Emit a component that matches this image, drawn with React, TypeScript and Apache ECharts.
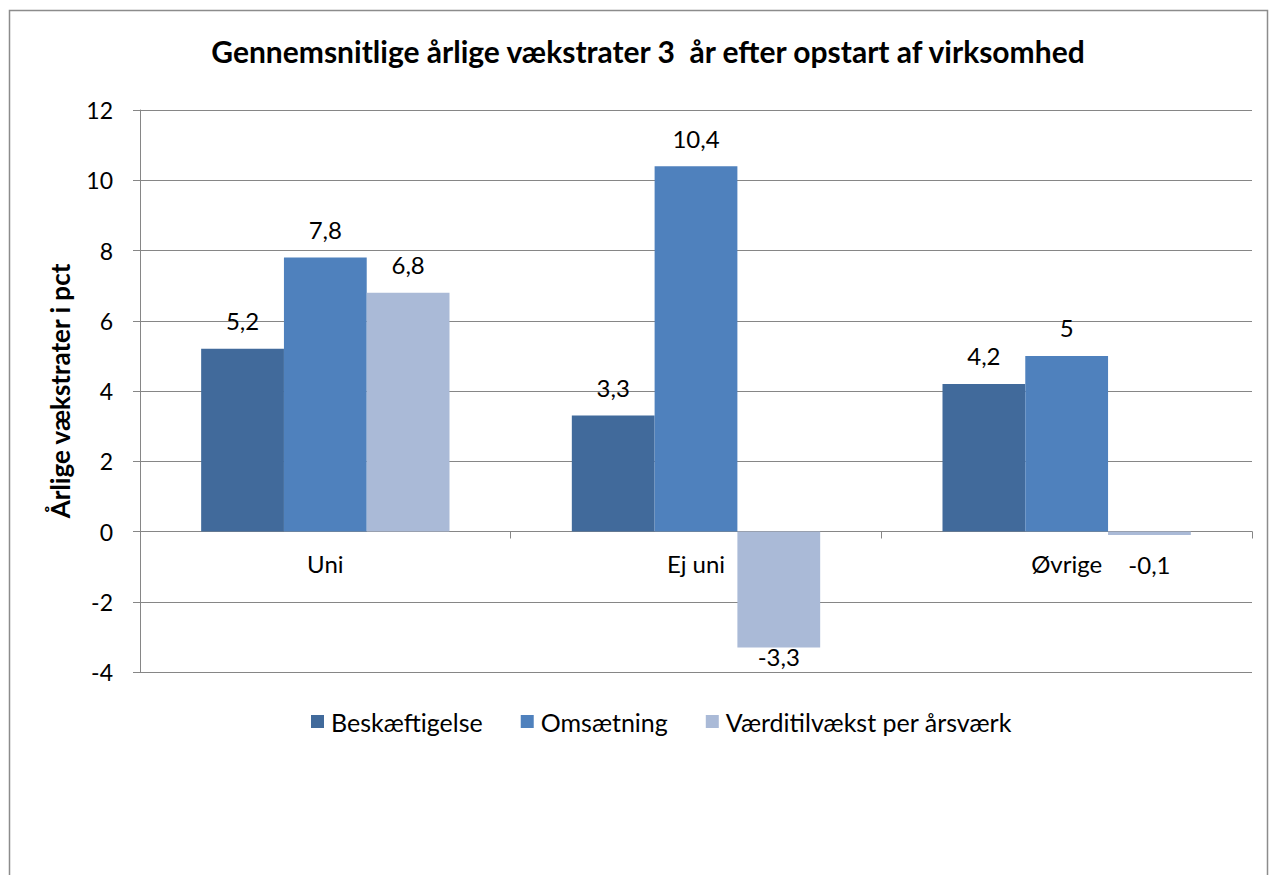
import React, { useEffect, useRef } from "react";
import * as echarts from "echarts";

const categories = ["Uni", "Ej uni", "Øvrige"];
const seriesNames = ["Beskæftigelse", "Omsætning", "Værditilvækst per årsværk"];
const beskaeftigelse = [5.2, 3.3, 4.2];
const omsaetning = [7.8, 10.4, 5.0];
const vaerditilvaekst = [6.8, -3.3, -0.1];
const colors = ["#416A9B", "#4F81BD", "#AABAD7"];
const yMin = -4;
const yMax = 12;
const yInterval = 2;

const FONT = "Lato, 'Noto Sans', sans-serif";
const FS = 24;

function fmt(v: number) {
  return String(v).replace(".", ",");
}

function toData(values: number[]) {
  return values.map((v) => {
    if (v < 0) {
      const small = Math.abs(v) < 0.5;
      return {
        value: v,
        label: { position: "bottom", distance: small ? 17 : -3 },
      };
    }
    return { value: v };
  });
}

export default function App() {
  const ref = useRef<HTMLDivElement>(null);
  useEffect(() => {
    if (!ref.current) return;
    const chart = echarts.init(ref.current, null, { renderer: "svg" });
    const all = [beskaeftigelse, omsaetning, vaerditilvaekst];
    chart.setOption({
      animation: false,
      backgroundColor: "#ffffff",
      textStyle: { fontFamily: FONT },
      title: {
        text: "Gennemsnitlige årlige vækstrater 3  år efter opstart af virksomhed",
        left: 643,
        top: 31,
        textAlign: "center",
        textStyle: { fontFamily: FONT, fontSize: 30, fontWeight: "bold", color: "#000" },
      },
      graphic: [
        {
          type: "rect",
          shape: { x: 9.5, y: 10.5, width: 1258, height: 880 },
          style: { fill: "none", stroke: "#8c8c8c", lineWidth: 1.5 },
          silent: true,
        },
      ],
      legend: {
        left: 306,
        top: 704,
        itemWidth: 13,
        itemHeight: 13,
        itemGap: 38,
        icon: "rect",
        textStyle: { fontFamily: FONT, fontSize: 25, color: "#000", padding: [0, 0, 0, 2] },
        data: seriesNames,
      },
      grid: { left: 140, right: 17, top: 110, bottom: 203, containLabel: false },
      xAxis: {
        type: "category",
        data: categories,
        axisLine: { onZero: true, lineStyle: { color: "#868686", width: 1 } },
        axisTick: { show: true, length: 7, lineStyle: { color: "#868686" } },
        axisLabel: { fontFamily: FONT, fontSize: FS, color: "#000", margin: -121 },
      },
      yAxis: {
        type: "value",
        min: yMin,
        max: yMax,
        interval: yInterval,
        name: "Årlige vækstrater i pct",
        nameLocation: "middle",
        nameGap: 67,
        nameTextStyle: { fontFamily: FONT, fontSize: 26, fontWeight: "bold", color: "#000" },
        axisLine: { show: true, lineStyle: { color: "#868686" } },
        axisTick: { show: true, length: 7, lineStyle: { color: "#868686" } },
        splitLine: { show: true, lineStyle: { color: "#868686", width: 1 } },
        axisLabel: { fontFamily: FONT, fontSize: 23, color: "#000", margin: 27 },
      },
      series: seriesNames.map((name, i) => ({
        name,
        type: "bar",
        data: toData(all[i]),
        barGap: "0%",
        barCategoryGap: "33%",
        itemStyle: { color: colors[i] },
        label: {
          show: true,
          position: "top",
          distance: 16,
          fontFamily: FONT,
          fontSize: FS,
          color: "#000",
          formatter: (p: any) => fmt(p.value),
        },
      })),
    });
    return () => chart.dispose();
  }, []);
  return (
    <div
      ref={ref}
      style={{ position: "fixed", left: 0, top: 0, width: 1269, height: 875 }}
    />
  );
}
